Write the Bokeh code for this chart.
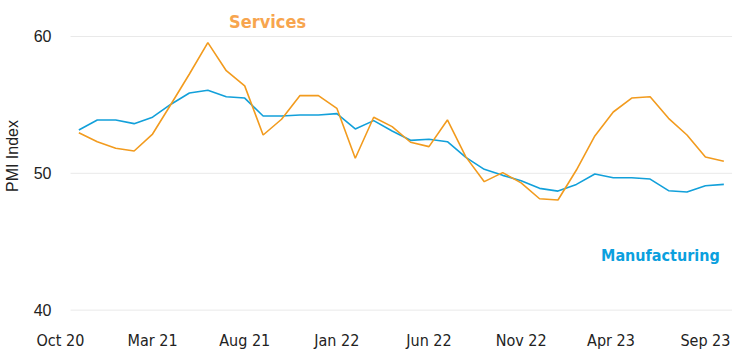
from bokeh.plotting import figure
from bokeh.models import FixedTicker, Label, Range1d, ColumnDataSource
from bokeh.embed import file_html
from bokeh.resources import INLINE

# Month offsets from Oct 2020 (data starts one month after the first tick label)
month_index = list(range(1, 37))
services = [52.97, 52.31, 51.83, 51.63, 52.87, 55.05, 57.26, 59.55, 57.50, 56.39,
            52.80, 53.95, 55.68, 55.68, 54.75, 51.10, 54.10, 53.41, 52.27, 51.95,
            53.90, 51.20, 49.39, 50.05, 49.30, 48.14, 48.05, 50.24, 52.73, 54.48,
            55.50, 55.60, 54.02, 52.80, 51.19, 50.88]
manufacturing = [53.17, 53.90, 53.90, 53.63, 54.10, 55.05, 55.87, 56.07, 55.60, 55.50,
                 54.19, 54.19, 54.26, 54.26, 54.36, 53.24, 53.85, 53.09, 52.41, 52.49,
                 52.31, 51.17, 50.29, 49.85, 49.46, 48.90, 48.70, 49.19, 49.95, 49.68,
                 49.68, 49.58, 48.73, 48.63, 49.09, 49.19]
tick_positions = [0, 5, 10, 15, 20, 25, 30, 35]
tick_labels = ["Oct 20", "Mar 21", "Aug 21", "Jan 22", "Jun 22", "Nov 22", "Apr  23", "Sep 23"]
y_ticks = [40, 50, 60]

SERV_LINE = "#F29B1E"
SERV_TEXT = "#F7A54E"
MANU_LINE = "#12A0DA"
MANU_TEXT = "#0BA0DE"
COND = "DejaVu Sans Condensed"

p = figure(width=750, height=352, output_backend="svg", toolbar_location=None,
           x_range=Range1d(-0.43, 36.47), y_range=Range1d(39.9, 62.63),
           min_border_left=52, min_border_right=18, min_border_top=0, min_border_bottom=41)
p.outline_line_color = None
p.background_fill_color = "white"
p.border_fill_color = "white"
p.xgrid.visible = False
p.ygrid.visible = False

# horizontal gridlines spanning the data region
gx0 = month_index[0] - 0.45
gx1 = month_index[-1] + 0.45
p.segment(x0=[gx0] * len(y_ticks), x1=[gx1] * len(y_ticks), y0=y_ticks, y1=y_ticks,
          line_color="#E9E9E9", line_width=1)

src = ColumnDataSource(dict(x=month_index, s=services, m=manufacturing))
p.line("x", "m", source=src, line_color=MANU_LINE, line_width=1.6)
p.line("x", "s", source=src, line_color=SERV_LINE, line_width=1.6)

# axes
for ax in (p.xaxis, p.yaxis):
    ax.axis_line_color = None
    ax.major_tick_line_color = None
    ax.minor_tick_line_color = None
    ax.major_tick_out = 0
    ax.major_tick_in = 0
    ax.minor_tick_out = 0
    ax.minor_tick_in = 0
    ax.major_label_text_color = "#222222"

p.xaxis.ticker = FixedTicker(ticks=tick_positions)
p.xaxis.major_label_overrides = {t: l for t, l in zip(tick_positions, tick_labels)}
p.xaxis.major_label_text_font = COND
p.xaxis.major_label_text_font_size = "16px"
p.xaxis.major_label_standoff = 19

p.yaxis.ticker = FixedTicker(ticks=y_ticks)
p.yaxis.major_label_text_font = "Liberation Sans"
p.yaxis.major_label_text_font_size = "16px"
p.yaxis.major_label_standoff = 1
p.yaxis.axis_label = "PMI Index"
p.yaxis.axis_label_text_font = "Liberation Sans"
p.yaxis.axis_label_text_font_style = "normal"
p.yaxis.axis_label_text_font_size = "16px"
p.yaxis.axis_label_text_color = "#222222"
p.yaxis.axis_label_standoff = 10

p.add_layout(Label(x=11.24, y=61.1, text="Services", text_align="center", text_baseline="middle",
                   text_font=COND, text_font_style="bold",
                   text_font_size="18px", text_color=SERV_TEXT))
p.add_layout(Label(x=32.56, y=44.02, text="Manufacturing", text_align="center", text_baseline="middle",
                   text_font=COND, text_font_style="bold",
                   text_font_size="16px", text_color=MANU_TEXT))

open("out.html", "w").write(file_html(p, INLINE))
